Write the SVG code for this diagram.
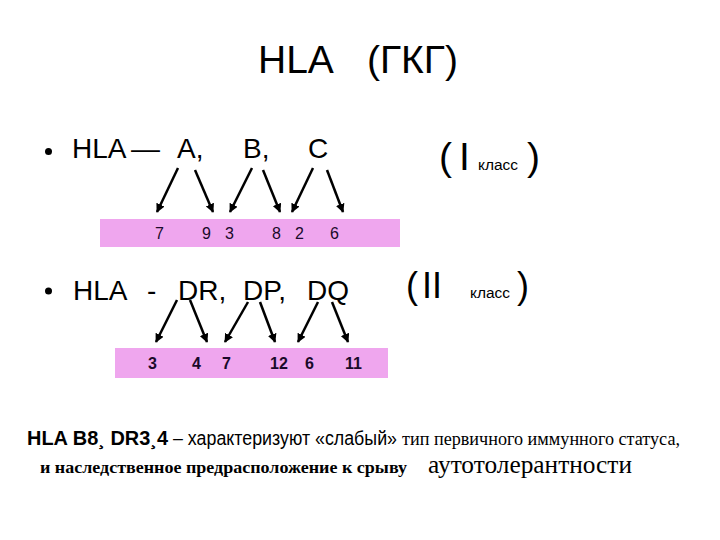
<svg xmlns="http://www.w3.org/2000/svg" width="720" height="540" viewBox="0 0 720 540">
<style>
.s{font-family:"Liberation Sans",Arial,sans-serif;fill:#000}
.t{font-family:"Liberation Serif","Times New Roman",serif;fill:#000}
.big{font-size:28px}
.d{font-family:"Liberation Sans",Arial,sans-serif;font-size:16px;fill:#1a0a2a}
.bar{fill:#efa6ee}
.ar{stroke:#000;stroke-width:2.5;fill:none;marker-end:url(#ah)}
</style>
<defs>
<marker id="ah" viewBox="0 0 10 10" refX="9" refY="5" markerWidth="3.6" markerHeight="3.6" orient="auto" markerUnits="strokeWidth">
<path d="M0,0 L10,5 L0,10 Z" fill="#000"/>
</marker>
</defs>
<rect width="720" height="540" fill="#fff"/>

<g id="title">
<text class="s" x="258" y="73" font-size="39">HLA</text>
<text class="s" x="367" y="73" font-size="39">(ГКГ)</text>
</g>

<g id="class1-line">
<circle cx="48.5" cy="151.5" r="3.5" fill="#000"/>
<text class="s big" x="72" y="158">HLA</text>
<text class="s big" x="131" y="158" textLength="29" lengthAdjust="spacingAndGlyphs">–</text>
<text class="s big" x="177" y="158">A,</text>
<text class="s big" x="243" y="158">B,</text>
<text class="s big" x="308" y="158">C</text>
<text class="s" x="439" y="170" font-size="39">(</text>
<text class="s" x="459" y="170" font-size="39">I</text>
<text class="s" x="478" y="170" font-size="14" textLength="40" lengthAdjust="spacingAndGlyphs">класс</text>
<text class="s" x="527" y="170" font-size="39">)</text>
</g>

<g id="bar1">
<rect class="bar" x="100" y="219" width="300" height="28"/>
<text class="d" x="155" y="239">7</text>
<text class="d" x="202" y="239">9</text>
<text class="d" x="225" y="239">3</text>
<text class="d" x="272" y="239">8</text>
<text class="d" x="295" y="239">2</text>
<text class="d" x="330" y="239">6</text>
</g>

<g id="class2-line">
<circle cx="48.5" cy="291" r="3.5" fill="#000"/>
<text class="s big" x="73" y="300">HLA</text>
<text class="s big" x="147" y="300">-</text>
<text class="s big" x="178" y="300">DR,</text>
<text class="s big" x="243" y="300">DP,</text>
<text class="s big" x="307" y="300">DQ</text>
<text class="s" x="406" y="298" font-size="36">(</text>
<text class="s" x="422" y="298" font-size="36">II</text>
<text class="s" x="470" y="298" font-size="14" textLength="40" lengthAdjust="spacingAndGlyphs">класс</text>
<text class="s" x="517" y="298" font-size="36">)</text>
</g>

<g id="bar2">
<rect class="bar" x="115" y="348" width="273" height="30"/>
<text class="d" x="148" y="369" font-weight="bold">3</text>
<text class="d" x="192" y="369" font-weight="bold">4</text>
<text class="d" x="222" y="369" font-weight="bold">7</text>
<text class="d" x="270" y="369" font-weight="bold">12</text>
<text class="d" x="305" y="369" font-weight="bold">6</text>
<text class="d" x="345" y="369" font-weight="bold">11</text>
</g>

<g id="connectors">
<line class="ar" x1="178" y1="168" x2="157" y2="212"/>
<line class="ar" x1="195" y1="170" x2="213" y2="212"/>
<line class="ar" x1="252" y1="168" x2="230" y2="212"/>
<line class="ar" x1="263" y1="170" x2="280" y2="212"/>
<line class="ar" x1="313" y1="168" x2="292" y2="212"/>
<line class="ar" x1="327" y1="170" x2="343" y2="212"/>
<line class="ar" x1="177" y1="300" x2="156" y2="342"/>
<line class="ar" x1="190" y1="300" x2="207" y2="342"/>
<line class="ar" x1="248" y1="302" x2="225" y2="342"/>
<line class="ar" x1="260" y1="302" x2="275" y2="342"/>
<line class="ar" x1="318" y1="302" x2="298" y2="342"/>
<line class="ar" x1="332" y1="302" x2="348" y2="342"/>
</g>

<g id="footer">
<text class="s" x="27" y="445" font-size="20" font-weight="bold" textLength="141" lengthAdjust="spacingAndGlyphs">HLA B8¸ DR3¸4</text>
<text class="s" x="173" y="445" font-size="20" textLength="224" lengthAdjust="spacingAndGlyphs">– характеризуют «слабый»</text>
<text class="t" x="402" y="445" font-size="18" textLength="278" lengthAdjust="spacingAndGlyphs">тип первичного  иммунного статуса,</text>
<text class="t" x="40" y="473" font-size="17" font-weight="bold" textLength="367" lengthAdjust="spacingAndGlyphs">и наследственное предрасположение к срыву</text>
<text class="t" x="428" y="473" font-size="25" textLength="204" lengthAdjust="spacingAndGlyphs">аутотолерантности</text>
</g>
</svg>
